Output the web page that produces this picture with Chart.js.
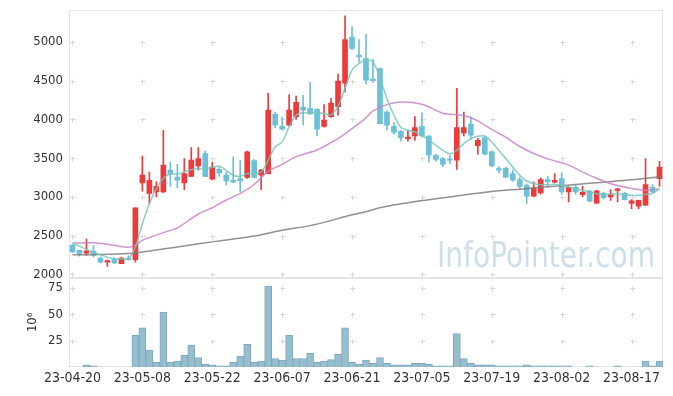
<!DOCTYPE html>
<html>
<head>
<meta charset="utf-8">
<script src="https://cdn.jsdelivr.net/npm/chart.js@4"></script>
<style>
  body { margin: 0; background: #fff; }
  #wrap { position: relative; width: 673px; height: 396px; }
  #price { position: absolute; left: 0; top: 0; }
  #vol { position: absolute; left: 0; top: 271px; }
</style>
</head>
<body>
<div id="wrap">
  <div id="price" style="width:673px;height:285px"><canvas id="priceChart"></canvas></div>
  <div id="vol" style="width:673px;height:125px"><canvas id="volChart"></canvas></div>
</div>
<script>
const dates = [
  "23-04-20","23-04-21","23-04-24","23-04-25","23-04-26","23-04-27","23-04-28",
  "23-05-02","23-05-03","23-05-04","23-05-08","23-05-09","23-05-10","23-05-11","23-05-12",
  "23-05-15","23-05-16","23-05-17","23-05-18","23-05-19","23-05-22","23-05-23","23-05-24",
  "23-05-25","23-05-26","23-05-30","23-05-31","23-06-01","23-06-02","23-06-05","23-06-07",
  "23-06-08","23-06-09","23-06-12","23-06-13","23-06-14","23-06-15","23-06-16","23-06-19",
  "23-06-20","23-06-21","23-06-22","23-06-23","23-06-26","23-06-27","23-06-28","23-06-29",
  "23-06-30","23-07-03","23-07-04","23-07-05","23-07-06","23-07-07","23-07-10","23-07-11",
  "23-07-12","23-07-13","23-07-14","23-07-17","23-07-18","23-07-19","23-07-20","23-07-21",
  "23-07-24","23-07-25","23-07-26","23-07-27","23-07-28","23-07-31","23-08-01","23-08-02",
  "23-08-03","23-08-04","23-08-07","23-08-08","23-08-09","23-08-10","23-08-11","23-08-14",
  "23-08-16","23-08-17","23-08-18","23-08-21","23-08-22","23-08-23"
];

const openP = [2375,2310,2275,2300,2210,2160,2200,2140,2210,2190,
  3180,3045,3065,3065,3345,3255,3180,3265,3400,3560,
  3230,3355,3280,3215,3235,3250,3470,3280,3300,4065,
  3910,3925,4035,4155,4140,4130,3910,4035,4165,4465,
  5060,4830,4785,4520,4655,4095,3910,3845,3750,3785,
  3910,3785,3535,3495,3490,3475,3825,3940,3660,3765,
  3580,3365,3370,3300,3225,3150,3010,3050,3225,3190,
  3235,3065,3125,3030,3080,2920,3045,3000,3085,3045,
  2915,2880,2895,3125,3235];
const closeP = [2290,2270,2300,2245,2160,2180,2150,2210,2190,2860,
  3280,3215,3135,3410,3290,3215,3300,3475,3495,3265,
  3385,3310,3205,3190,3205,3580,3250,3345,4120,3925,
  3875,4120,4220,4120,4075,3875,3990,4210,4495,5030,
  4915,4805,4505,4500,3945,3925,3830,3760,3770,3895,
  3785,3540,3485,3420,3475,3895,3895,3795,3730,3550,
  3400,3345,3255,3215,3135,3010,3115,3225,3195,3215,
  3065,3125,3065,3060,2945,3080,2990,3035,3105,2965,
  2950,2955,3160,3065,3385];
const highP = [2385,2315,2455,2375,2225,2185,2215,2225,2240,2860,
  3525,3320,3195,3860,3450,3420,3495,3635,3635,3595,
  3445,3385,3320,3515,3470,3590,3480,3355,4335,4095,
  4025,4320,4300,4310,4475,4140,4190,4270,4585,5335,
  5195,5030,5095,4775,4660,4110,3960,3860,3860,4035,
  4085,3790,3550,3510,3535,4400,4095,4035,3755,3775,
  3595,3395,3385,3350,3255,3170,3190,3245,3265,3300,
  3310,3130,3150,3135,3085,3085,3060,3095,3110,3060,
  2965,2960,3495,3160,3460];
const lowP = [2285,2235,2245,2225,2150,2105,2140,2140,2180,2160,
  3075,2915,3000,3050,3135,3120,3095,3260,3345,3260,
  3220,3265,3150,3185,3065,3240,3245,3095,3295,3890,
  3860,3915,4000,3925,4060,3785,3900,4025,4055,4355,
  4900,4740,4455,4475,3940,3860,3810,3720,3720,3730,
  3770,3450,3460,3390,3430,3355,3785,3740,3550,3540,
  3390,3310,3245,3200,3110,2915,3000,3035,3130,3180,
  3035,2935,3035,3000,2940,2915,2975,2955,2935,2960,
  2850,2850,2890,3050,3135];

// 5-day average
const ma5 = [2404,2362,2327,2288,2254,2223,2202,2200,2202,2353,
  2655,2913,3107,3236,3301,3292,3322,3352,3365,3365,
  3378,3395,3343,3279,3266,3301,3301,3322,3472,3644,
  3709,3902,4053,4088,4075,4088,4075,4060,4170,4400,
  4635,4721,4764,4743,4527,4269,4053,3894,3860,3838,
  3795,3731,3666,3601,3558,3601,3688,3752,3782,3786,
  3709,3601,3494,3386,3279,3205,3171,3158,3158,3163,
  3149,3128,3107,3085,3063,3042,3033,3033,3042,3033,
  3020,3020,3033,3042,3107];

// 20-day and long average, read at these candle indexes
const ma20Idx = [0,3,6,8,9,10,13,15,18,20,22,24,26,28,30,32,35,37,38,40,42,43,45,47,50,53,56,58,60,62,64,66,68,71,73,75,77,80,82,84];
const ma20Val = [2405,2408,2375,2350,2380,2440,2540,2600,2780,2860,2960,3045,3160,3330,3420,3520,3605,3700,3752,3880,4020,4110,4190,4225,4195,4080,4050,3980,3870,3770,3650,3560,3490,3410,3320,3240,3170,3110,3085,3105];
const maLongIdx = [0,4,8,10,14,18,22,26,30,34,38,40,42,44,48,52,56,60,64,68,72,76,80,84];
const maLongVal = [2255,2258,2270,2290,2340,2395,2445,2495,2570,2630,2720,2770,2810,2860,2925,2975,3025,3070,3100,3130,3160,3190,3220,3260];

// volume, millions
const volume = [0,0,2,1,0,0,0,0,0,30,
  37,16,4.5,52,4.5,5.5,11,20.5,9,2.5,
  2,1,1,4.5,10,21.5,4.5,5.5,76.5,8,
  6.5,30,8,8,13,4.5,5.5,7,12,37,
  4.5,2.5,6.5,3.5,9,3.5,2,2,2,3.5,
  3.5,2.5,1,1,1,31.5,8,3.5,2,2,
  2,1,1,1,1,2,1,1,1,1,
  1,1,0,0,1,0,0,0,1,0,
  0,0,5.5,1,5.5];

const priceTicks = [2000, 2500, 3000, 3500, 4000, 4500, 5000];
const volTicks = [25, 50, 75];

Chart.defaults.font.family = "'DejaVu Sans Condensed', 'DejaVu Sans', sans-serif";
Chart.defaults.font.size = 13;
Chart.defaults.color = "#333";
Chart.defaults.animation = false;

const upColor = "#ec3b3b";
const downColor = "#6cc1d8";
const candleColors = openP.map((o, i) => (closeP[i] >= o ? upColor : downColor));

function sparse(idx, val) {
  const out = dates.map(() => null);
  idx.forEach((k, j) => { out[k] = val[j]; });
  return out;
}

function frameAndCrosses(yId, ticks) {
  return {
    id: "frame-" + yId,
    beforeDatasetsDraw(chart) {
      const { ctx, chartArea: a, scales } = chart;
      ctx.save();
      ctx.strokeStyle = "#e4e4e4";
      ctx.lineWidth = 1;
      ctx.strokeRect(Math.round(a.left) + 0.5, Math.round(a.top) + 0.5,
        Math.round(a.width) - 1, Math.round(a.height) - 1);
      ctx.strokeStyle = "#d6d6d6";
      for (let i = 0; i < dates.length; i += 10) {
        const x = Math.round(scales.x.getPixelForValue(i)) + 0.5;
        ticks.forEach((v) => {
          const y = Math.round(scales[yId].getPixelForValue(v)) + 0.5;
          ctx.beginPath();
          ctx.moveTo(x - 2, y); ctx.lineTo(x + 3, y);
          ctx.moveTo(x, y - 2); ctx.lineTo(x, y + 3);
          ctx.stroke();
        });
      }
      ctx.restore();
    },
  };
}

const watermark = {
  id: "watermark",
  beforeDatasetsDraw(chart) {
    const ctx = chart.ctx;
    ctx.save();
    ctx.font = "36px 'DejaVu Sans'";
    const w = ctx.measureText("InfoPointer.com").width;
    ctx.translate(437, 267);
    ctx.scale(218 / w, 1);
    ctx.fillStyle = "#cddfe9";
    ctx.textBaseline = "alphabetic";
    ctx.fillText("InfoPointer.com", 0, 0);
    ctx.restore();
  },
};

// small line height keeps the label overhang padding down to ~6.65px
const tickFont = { size: 13, lineHeight: 0.1 };

new Chart(document.getElementById("priceChart"), {
  type: "bar",
  data: {
    labels: dates,
    datasets: [
      {
        type: "line", label: "MA5", data: ma5, order: 1,
        borderColor: "rgba(120,196,186,0.85)", borderWidth: 1.5,
        pointRadius: 0, tension: 0.3,
      },
      {
        type: "line", label: "MA20", data: sparse(ma20Idx, ma20Val), order: 2,
        borderColor: "rgba(200,130,200,0.85)", borderWidth: 1.5,
        pointRadius: 0, tension: 0.3, spanGaps: true,
      },
      {
        type: "line", label: "MA", data: sparse(maLongIdx, maLongVal), order: 3,
        borderColor: "rgba(125,125,125,0.85)", borderWidth: 1.5,
        pointRadius: 0, tension: 0.3, spanGaps: true,
      },
      {
        label: "body", data: openP.map((o, i) => [o, closeP[i]]), order: 4,
        backgroundColor: candleColors, barThickness: 5, grouped: false, minBarLength: 1,
      },
      {
        label: "wick", data: lowP.map((l, i) => [l, highP[i]]), order: 5,
        backgroundColor: candleColors, barThickness: 1, grouped: false,
      },
    ],
  },
  options: {
    responsive: true,
    maintainAspectRatio: false,
    layout: { autoPadding: false, padding: { top: 10, right: 10, left: 0, bottom: 0 } },
    plugins: { legend: { display: false }, tooltip: { enabled: false } },
    scales: {
      x: { display: false },
      y: {
        min: 1950, max: 5410,
        grid: { display: false, drawTicks: false },
        border: { display: false },
        afterBuildTicks: (s) => { s.ticks = priceTicks.map((v) => ({ value: v })); },
        afterFit: (s) => { s.width = 69; },
        ticks: { padding: 6, font: tickFont, callback: (v) => String(v) },
      },
    },
  },
  plugins: [frameAndCrosses("y", priceTicks), watermark],
});

new Chart(document.getElementById("volChart"), {
  type: "bar",
  data: {
    labels: dates,
    datasets: [
      {
        label: "volume", data: volume,
        backgroundColor: "rgba(150,190,206,1)", borderColor: "#7ea8bd", borderWidth: 1,
        barPercentage: 1, categoryPercentage: 1,
      },
    ],
  },
  options: {
    responsive: true,
    maintainAspectRatio: false,
    layout: { autoPadding: false, padding: { top: 0, right: 10, left: 0, bottom: 0 } },
    plugins: { legend: { display: false }, tooltip: { enabled: false } },
    scales: {
      x: {
        grid: { display: false, drawTicks: false },
        border: { display: false },
        afterFit: (s) => { s.height = 29; },
        ticks: {
          autoSkip: false, maxRotation: 0, padding: 3, font: { size: 14 },
          callback: (v, i) => (i % 10 === 0 ? dates[i] : ""),
        },
      },
      y: {
        min: 0, max: 84.5,
        grid: { display: false, drawTicks: false },
        border: { display: false },
        afterBuildTicks: (s) => { s.ticks = volTicks.map((v) => ({ value: v })); },
        afterFit: (s) => { s.width = 69; },
        ticks: { padding: 6, font: tickFont },
        title: { display: true, text: "10⁶", padding: { top: 25, bottom: 0 } },
      },
    },
  },
  plugins: [frameAndCrosses("y", volTicks)],
});
</script>
</body>
</html>
